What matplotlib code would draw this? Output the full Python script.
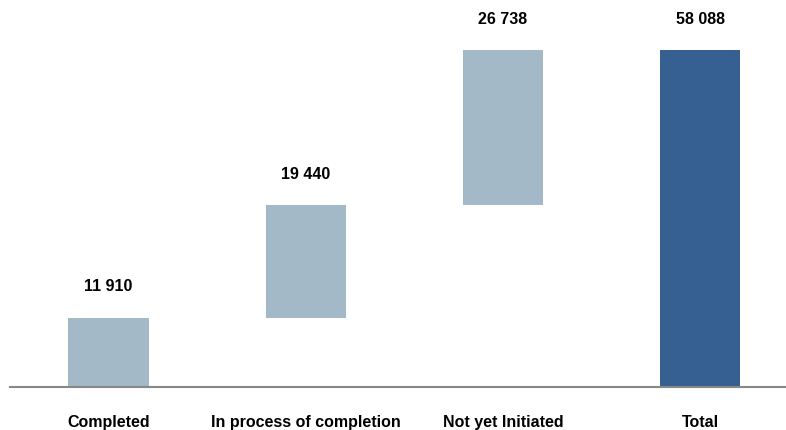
import matplotlib.pyplot as plt
from matplotlib.transforms import offset_copy

# Dados
categorias = ["Completed", "In process of completion", "Not yet Initiated", "Total"]
valores = [11910, 19440, 26738, 58088]
bases = [0, 11910, 31350, 0]
cores = ["#A3B9C7", "#A3B9C7", "#A3B9C7", "#366092"]

plt.rcParams['font.family'] = ['Liberation Sans', 'DejaVu Sans']

fig = plt.figure(figsize=(7.86, 4.30), dpi=100)
ax = fig.add_axes([10 / 786, 43 / 430, 776 / 786, 387 / 430])

x = range(len(categorias))
ax.bar(x, valores, bottom=bases, width=0.406, color=cores)

for i, (v, b) in enumerate(zip(valores, bases)):
    rotulo = f"{v:,}".replace(",", " ")
    tr = offset_copy(ax.transData, fig=fig, x=0, y=31 * 72 / 100, units='points')
    ax.text(i, b + v, rotulo, transform=tr, ha='center', va='center',
            fontsize=11.5, fontweight='bold', color='black')

ax.set_xlim(-0.4995, 3.436)
ax.set_ylim(0, 66707)
ax.set_xticks(list(x))
ax.set_xticklabels(categorias, fontsize=11.5, fontweight='bold')
ax.tick_params(axis='x', length=0, pad=20)
ax.set_yticks([])
for lado in ['top', 'right', 'left']:
    ax.spines[lado].set_visible(False)
ax.spines['bottom'].set_color('#888888')
ax.spines['bottom'].set_linewidth(1.5)

fig.savefig("out.png", dpi=100)
plt.close()
